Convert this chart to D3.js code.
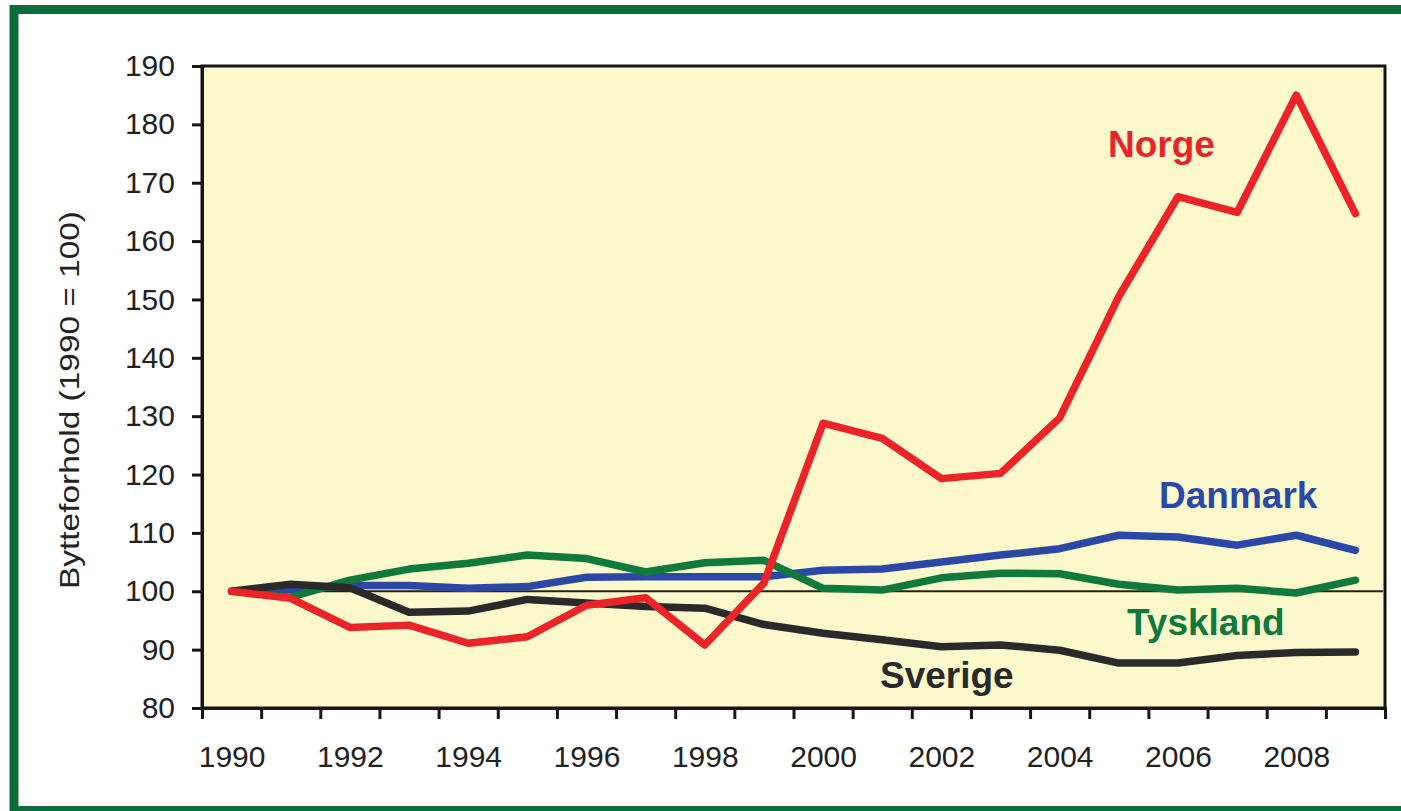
<!DOCTYPE html>
<html>
<head>
<meta charset="utf-8">
<script src="https://cdn.jsdelivr.net/npm/d3@7"></script>
<style>
  body { margin: 0; background: #fff; }
  svg { display: block; font-family: "Liberation Sans", Arial, sans-serif; }
  .tick text { fill: #222; }
</style>
</head>
<body>
<script>
// data
var years = d3.range(1990, 2010);
var norge    = [100, 98.8, 93.8, 94.2, 91.1, 92.2, 97.6, 98.9, 90.8, 101.4, 128.8, 126.2, 119.3, 120.2, 129.7, 150.5, 167.6, 164.9, 185.0, 164.7];
var danmark  = [100, 100.3, 101.0, 101.0, 100.5, 100.8, 102.4, 102.5, 102.5, 102.5, 103.6, 103.8, 105.0, 106.2, 107.3, 109.6, 109.3, 107.9, 109.6, 107.0];
var tyskland = [100, 99.0, 101.9, 103.8, 104.8, 106.2, 105.6, 103.3, 104.9, 105.3, 100.5, 100.2, 102.3, 103.1, 103.0, 101.2, 100.2, 100.5, 99.7, 101.9];
var sverige  = [100, 101.2, 100.6, 96.4, 96.6, 98.6, 98.0, 97.4, 97.1, 94.3, 92.8, 91.7, 90.5, 90.8, 89.9, 87.7, 87.7, 89.0, 89.5, 89.6];
var yTicks = d3.range(80, 191, 10);
var xLabels = d3.range(1990, 2010, 2);

var width = 1401, height = 811;
var plot = { left: 202, right: 1385, top: 66, bottom: 708 };

var svg = d3.select("body").append("svg")
    .attr("width", width)
    .attr("height", height);

// green frame
svg.append("rect")
    .attr("x", 14).attr("y", 9.5)
    .attr("width", 1420).attr("height", 801)
    .attr("fill", "none")
    .attr("stroke", "#0c6d3a")
    .attr("stroke-width", 9);

var x = d3.scaleLinear().domain([1989.5, 2009.5]).range([plot.left, plot.right]);
var y = d3.scaleLinear().domain([80, 190]).range([plot.bottom, plot.top]);

// plot background
svg.append("rect")
    .attr("x", plot.left).attr("y", plot.top)
    .attr("width", plot.right - plot.left)
    .attr("height", plot.bottom - plot.top)
    .attr("fill", "#fbf8cc")
    .attr("stroke", "#151515")
    .attr("stroke-width", 3);

// y axis
var yAxis = svg.append("g")
    .attr("transform", "translate(" + plot.left + ",0)")
    .call(d3.axisLeft(y).tickValues(yTicks).tickSize(10).tickPadding(17));
yAxis.select(".domain").attr("stroke-width", 3).attr("stroke", "#151515");
yAxis.selectAll(".tick line").attr("stroke-width", 3).attr("stroke", "#151515");
yAxis.selectAll(".tick text").attr("font-size", 30).attr("font-family", "Liberation Sans, Arial, sans-serif");

// x axis ticks at year boundaries
var xAxis = svg.append("g")
    .attr("transform", "translate(0," + plot.bottom + ")")
    .call(d3.axisBottom(x).tickValues(d3.range(1989.5, 2010, 1)).tickSize(11).tickFormat(""));
xAxis.select(".domain").attr("stroke-width", 3).attr("stroke", "#151515");
xAxis.selectAll(".tick line").attr("stroke-width", 3).attr("stroke", "#151515");

// x labels centred under each even year
var xLab = svg.append("g")
    .attr("transform", "translate(0," + plot.bottom + ")")
    .call(d3.axisBottom(x).tickValues(xLabels).tickSize(0).tickPadding(38).tickFormat(d3.format("d")));
xLab.select(".domain").remove();
xLab.selectAll(".tick text").attr("font-size", 30).attr("font-family", "Liberation Sans, Arial, sans-serif");

// y title
svg.append("text")
    .attr("transform", "translate(79,400) rotate(-90)")
    .attr("text-anchor", "middle")
    .attr("font-size", 28)
    .attr("fill", "#222")
    .attr("textLength", 378)
    .attr("lengthAdjust", "spacingAndGlyphs")
    .text("Bytteforhold (1990 = 100)");

// reference line at 100
svg.append("line")
    .attr("x1", x(1990)).attr("x2", x(2009.5) - 2)
    .attr("y1", y(100)).attr("y2", y(100))
    .attr("stroke", "#222")
    .attr("stroke-width", 2);

var line = d3.line()
    .x(function(d, i) { return x(years[i]); })
    .y(function(d) { return y(d); });

var series = [
    { name: "Danmark",  values: danmark,  color: "#2c48a6" },
    { name: "Tyskland", values: tyskland, color: "#107a3d" },
    { name: "Sverige",  values: sverige,  color: "#2a2a2a" },
    { name: "Norge",    values: norge,    color: "#ec2329" }
];

svg.append("g").selectAll("path")
    .data(series)
    .enter()
    .append("path")
    .attr("d", function(d) { return line(d.values); })
    .attr("fill", "none")
    .attr("stroke", function(d) { return d.color; })
    .attr("stroke-width", 7.5)
    .attr("stroke-linejoin", "round")
    .attr("stroke-linecap", "round");

// series labels
var labels = [
    { text: "Norge",    color: "#e8242b", px: 1108, py: 157 },
    { text: "Danmark",  color: "#2c48a6", px: 1159, py: 508 },
    { text: "Tyskland", color: "#107a3d", px: 1127, py: 635 },
    { text: "Sverige",  color: "#2a2a2a", px: 880,  py: 688 }
];
svg.append("g").selectAll("text")
    .data(labels)
    .enter()
    .append("text")
    .attr("x", function(d) { return d.px; })
    .attr("y", function(d) { return d.py; })
    .attr("font-size", 37)
    .attr("font-weight", "bold")
    .attr("fill", function(d) { return d.color; })
    .text(function(d) { return d.text; });
</script>
</body>
</html>
